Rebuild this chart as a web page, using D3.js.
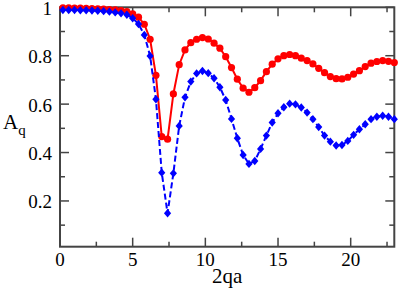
<!DOCTYPE html>
<html>
<head>
<meta charset="utf-8">
<script src="https://cdn.jsdelivr.net/npm/d3@7"></script>
<style>
  html, body { margin: 0; padding: 0; background: #fff; }
  svg { display: block; }
</style>
</head>
<body>
<svg id="chart" width="399" height="293"></svg>
<script>
// x positions: 2qa values (0.2 + 0.4 i)
const xValues = [0.2,0.6,1.0,1.4,1.8,2.2,2.6,3.0,3.4,3.8,4.2,4.6,5.0,5.4,5.8,6.2,6.6,7.0,7.4,7.8,8.2,8.6,9.0,9.4,9.8,10.2,10.6,11.0,11.4,11.8,12.2,12.6,13.0,13.4,13.8,14.2,14.6,15.0,15.4,15.8,16.2,16.6,17.0,17.4,17.8,18.2,18.6,19.0,19.4,19.8,20.2,20.6,21.0,21.4,21.8,22.2,22.6,23.0];
const redValues = [0.998,0.998,0.997,0.997,0.996,0.995,0.994,0.993,0.991,0.989,0.986,0.982,0.973,0.959,0.930,0.868,0.719,0.466,0.455,0.642,0.763,0.824,0.854,0.868,0.875,0.869,0.852,0.831,0.796,0.751,0.703,0.666,0.649,0.668,0.697,0.734,0.765,0.787,0.800,0.805,0.800,0.790,0.780,0.766,0.748,0.730,0.714,0.705,0.704,0.711,0.724,0.738,0.755,0.769,0.776,0.780,0.777,0.772];
const blueValues = [0.989,0.989,0.989,0.988,0.988,0.987,0.986,0.984,0.982,0.979,0.975,0.969,0.955,0.931,0.886,0.799,0.620,0.317,0.149,0.314,0.510,0.628,0.693,0.727,0.737,0.728,0.707,0.670,0.617,0.539,0.459,0.390,0.353,0.365,0.415,0.470,0.524,0.562,0.587,0.602,0.599,0.586,0.565,0.538,0.505,0.470,0.445,0.429,0.431,0.448,0.473,0.496,0.517,0.538,0.548,0.552,0.548,0.538];
const xMajorTicks = [0, 5, 10, 15, 20];
const xMinorTicks = [2.5, 7.5, 12.5, 17.5, 22.5];
const yMajorTicks = [0.2, 0.4, 0.6, 0.8, 1];
const yMinorTicks = [0.1, 0.3, 0.5, 0.7, 0.9];
const yTickLabels = ["0.2", "0.4", "0.6", "0.8", "1"];
const xLabel = "2qa";

const FONT = "'Liberation Serif', 'DejaVu Serif', 'Liberation Sans', serif";
const svg = d3.select("#chart");
const pLeft = 60, pRight = 394.3, pTop = 7.3, pBottom = 246.7;
const x = d3.scaleLinear().domain([0, 23]).range([pLeft, pRight]);
const y = d3.scaleLinear().domain([0.011, 1]).range([pBottom, pTop]);

const axisColor = "#444";
const frame = svg.append("g");
const majLen = 9, minLen = 5;

function tick(x1, y1, x2, y2) {
  frame.append("line").attr("x1", x1).attr("y1", y1).attr("x2", x2).attr("y2", y2)
    .attr("stroke", axisColor).attr("stroke-width", 1.5);
}
// ticks (inward, mirrored on all four sides)
xMajorTicks.forEach(v => { tick(x(v), pBottom, x(v), pBottom - majLen); tick(x(v), pTop, x(v), pTop + majLen); });
xMinorTicks.forEach(v => { tick(x(v), pBottom, x(v), pBottom - minLen); tick(x(v), pTop, x(v), pTop + minLen); });
yMajorTicks.forEach(v => { tick(pLeft, y(v), pLeft + majLen, y(v)); tick(pRight, y(v), pRight - majLen, y(v)); });
yMinorTicks.forEach(v => { tick(pLeft, y(v), pLeft + minLen, y(v)); tick(pRight, y(v), pRight - minLen, y(v)); });

// frame
frame.append("rect").attr("x", pLeft).attr("y", pTop).attr("width", pRight - pLeft).attr("height", pBottom - pTop)
  .attr("fill", "none").attr("stroke", axisColor).attr("stroke-width", 2);

// tick labels
xMajorTicks.forEach(v => {
  svg.append("text").attr("x", x(v)).attr("y", 266).attr("text-anchor", "middle")
    .attr("font-family", FONT).attr("font-size", 19).attr("fill", "#000").text(v);
});
yMajorTicks.forEach((v, i) => {
  svg.append("text").attr("x", 52).attr("y", y(v) + 7.5).attr("text-anchor", "end")
    .attr("font-family", FONT).attr("font-size", 19).attr("fill", "#000").text(yTickLabels[i]);
});

// axis titles
svg.append("text").attr("x", (pLeft + pRight) / 2).attr("y", 283).attr("text-anchor", "middle")
  .attr("font-family", FONT).attr("font-size", 21).attr("fill", "#000").text(xLabel);
const aq = svg.append("text").attr("x", 3).attr("y", 129)
  .attr("font-family", FONT).attr("font-size", 21).attr("fill", "#000");
aq.append("tspan").text("A");
aq.append("tspan").attr("font-size", 15).attr("dy", 6).text("q");

const redData = xValues.map((v, i) => [v, redValues[i]]);
const blueData = xValues.map((v, i) => [v, blueValues[i]]);
const line = d3.line().x(d => x(d[0])).y(d => y(d[1]));

const plot = svg.append("g");
// red series
plot.append("path").datum(redData).attr("d", line).attr("fill", "none").attr("stroke", "#ff0000").attr("stroke-width", 2);
plot.selectAll("circle.red").data(redData).enter().append("circle")
  .attr("cx", d => x(d[0])).attr("cy", d => y(d[1])).attr("r", 3.6).attr("fill", "#ff0000");

// blue series
plot.append("path").datum(blueData).attr("d", line).attr("fill", "none").attr("stroke", "#0000ff").attr("stroke-width", 2).attr("stroke-dasharray", "6,3");
plot.selectAll("path.blue").data(blueData).enter().append("path")
  .attr("d", d => {
    const cx = x(d[0]), cy = y(d[1]), w = 3.6, h = 4.2;
    return `M${cx},${cy - h}L${cx + w},${cy}L${cx},${cy + h}L${cx - w},${cy}Z`;
  })
  .attr("fill", "#0000ff");
</script>
</body>
</html>
